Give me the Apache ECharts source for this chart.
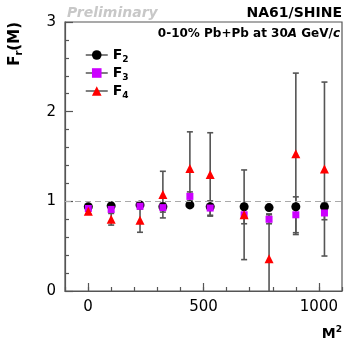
<!DOCTYPE html>
<html>
<head>
<meta charset="utf-8">
<script src="https://cdn.jsdelivr.net/npm/echarts@6/dist/echarts.min.js"></script>
<style>
  html, body { margin: 0; padding: 0; background: #fff; }
  #chart { width: 348px; height: 346px; }
</style>
</head>
<body>
<div id="chart"></div>
<script>
// M^2 bins
var m2 = [1, 100, 225, 324, 441, 529, 676, 784, 900, 1024];
// scaled factorial moments
var f2 = [0.94, 0.95, 0.96, 0.94, 0.96, 0.94, 0.94, 0.93, 0.94, 0.94];
var f2Err = [0.01, 0.01, 0.015, 0.02, 0.02, 0.02, 0.03, 0.02, 0.03, 0.04];
var f3 = [0.92, 0.91, 0.945, 0.93, 1.055, 0.925, 0.85, 0.80, 0.85, 0.87];
var f3Err = [0.02, 0.03, 0.03, 0.05, 0.05, 0.08, 0.1, 0.05, 0.2, 0.075];
var f4 = [0.89, 0.80, 0.79, 1.075, 1.365, 1.30, 0.85, 0.36, 1.53, 1.36];
var f4Err = [0.03, 0.065, 0.135, 0.26, 0.41, 0.465, 0.5, 0.5, 0.9, 0.97];
var xLabels = [0, 500, 1000];
var seriesNames = ['F2', 'F3', 'F4'];

var FONT = 'DejaVu Sans';

function points(vals) {
    return m2.map(function (x, i) { return [x, vals[i]]; });
}
function bars(vals, errs) {
    return m2.map(function (x, i) { return [x, vals[i] - errs[i], vals[i] + errs[i]]; });
}

function renderErr(params, api) {
    var lo = api.coord([api.value(0), api.value(1)]);
    var hi = api.coord([api.value(0), api.value(2)]);
    var w = 3;
    var st = { stroke: '#555', lineWidth: 1.6 };
    return {
        type: 'group',
        children: [
            { type: 'line', shape: { x1: lo[0], y1: lo[1], x2: hi[0], y2: hi[1] }, style: st },
            { type: 'line', shape: { x1: lo[0] - w, y1: lo[1], x2: lo[0] + w, y2: lo[1] }, style: st },
            { type: 'line', shape: { x1: hi[0] - w, y1: hi[1], x2: hi[0] + w, y2: hi[1] }, style: st }
        ]
    };
}

function errSeries(vals, errs) {
    return {
        type: 'custom',
        renderItem: renderErr,
        data: bars(vals, errs),
        encode: { x: 0, y: [1, 2] },
        clip: true,
        silent: true,
        z: 2
    };
}

var myChart = echarts.init(document.getElementById('chart'));
var option = {
    animation: false,
    backgroundColor: '#fff',
    textStyle: { fontFamily: FONT },
    grid: {
        left: 65, right: 6, top: 22, bottom: 55,
        show: true, borderColor: '#555', borderWidth: 1.2
    },
    legend: {
        orient: 'vertical',
        left: 80, top: 43,
        itemWidth: 22, itemHeight: 12, itemGap: 2,
        data: seriesNames.map(function (n) {
            return { name: n, lineStyle: { color: '#555', width: 1.5, opacity: 1 } };
        }),
        formatter: function (n) { return '{b|F}{s|' + n.slice(1) + '}'; },
        textStyle: {
            rich: {
                b: { fontFamily: FONT, fontWeight: 'bold', fontSize: 14, color: '#000' },
                s: { fontFamily: FONT, fontWeight: 'bold', fontSize: 9, color: '#000', padding: [9, 0, 0, 0] }
            }
        }
    },
    xAxis: [{
        type: 'value', min: -100, max: 1100, interval: 100,
        axisLine: { show: true, onZero: false, lineStyle: { color: '#555', width: 1.2 } },
        axisTick: { show: true, inside: true, length: 4, lineStyle: { color: '#555', width: 1.2 } },
        axisLabel: {
            color: '#000', fontSize: 15, margin: 9, fontFamily: FONT,
            formatter: function (v) { return xLabels.indexOf(v) >= 0 ? String(v) : ''; }
        },
        splitLine: { show: false },
        name: '{m|M}{s|2}', nameLocation: 'end',
        nameGap: 0,
        nameTextStyle: {
            align: 'right', verticalAlign: 'top', padding: [34, 0, 0, 0],
            rich: {
                m: { fontFamily: FONT, fontWeight: 'bold', fontSize: 14, color: '#000', padding: [2, 0, 0, 0] },
                s: { fontFamily: FONT, fontWeight: 'bold', fontSize: 9, color: '#000', padding: [0, 0, 6, 0] }
            }
        }
    }, {
        type: 'value', min: -100, max: 1100, position: 'bottom',
        axisLine: { show: false, onZero: false },
        axisTick: { show: true, inside: true, length: 8, customValues: xLabels, lineStyle: { color: '#555', width: 1.2 } },
        axisLabel: { show: false },
        splitLine: { show: false }
    }],
    yAxis: {
        type: 'value', min: 0, max: 3, interval: 1,
        axisLine: { show: true, onZero: false, lineStyle: { color: '#555', width: 1.2 } },
        axisTick: { show: true, inside: true, length: 8, lineStyle: { color: '#555', width: 1.2 } },
        minorTick: { show: true, splitNumber: 5, length: 4, lineStyle: { color: '#555', width: 1.2 } },
        axisLabel: { color: '#000', fontSize: 15, margin: 9, fontFamily: FONT },
        splitLine: { show: false }
    },
    graphic: [
        {
            type: 'text', left: 67, top: 6,
            style: { text: 'Preliminary', font: 'italic bold 14px "DejaVu Sans"', fill: '#c8c8c8' }
        },
        {
            type: 'text', right: 6, top: 6,
            style: { text: 'NA61/SHINE', font: 'bold 14px "DejaVu Sans"', fill: '#000' }
        },
        {
            type: 'text', right: 8, top: 28,
            style: {
                text: '{b|0-10% Pb+Pb at 30}{i|A}{b| GeV/}{i|c}',
                rich: {
                    b: { fontFamily: FONT, fontWeight: 'bold', fontSize: 12, fill: '#000' },
                    i: { fontFamily: FONT, fontWeight: 'bold', fontStyle: 'italic', fontSize: 12, fill: '#000' }
                }
            }
        },
        {
            type: 'text', x: 6, y: 22, rotation: Math.PI / 2,
            style: {
                text: '{b|F}{s|r}{b|(M)}',
                align: 'right', verticalAlign: 'top',
                rich: {
                    b: { fontFamily: FONT, fontWeight: 'bold', fontSize: 15, fill: '#000' },
                    s: { fontFamily: FONT, fontWeight: 'bold', fontSize: 10, fill: '#000', padding: [8, 0, 0, 0] }
                }
            }
        }
    ],
    series: [
        errSeries(f2, f2Err),
        {
            name: 'F2', type: 'line', data: points(f2),
            symbol: 'circle', symbolSize: 9,
            itemStyle: { color: '#000' },
            lineStyle: { width: 0, opacity: 0 },
            z: 3,
            markLine: {
                silent: true, symbol: 'none', label: { show: false },
                lineStyle: { color: '#aaa', type: [6, 4], width: 1.2 },
                data: [{ yAxis: 1 }]
            }
        },
        errSeries(f3, f3Err),
        {
            name: 'F3', type: 'line', data: points(f3),
            symbol: 'rect', symbolSize: 7,
            itemStyle: { color: '#cc00ff' },
            lineStyle: { width: 0, opacity: 0 },
            z: 4
        },
        errSeries(f4, f4Err),
        {
            name: 'F4', type: 'line', data: points(f4),
            symbol: 'triangle', symbolSize: 9,
            itemStyle: { color: '#ff0000' },
            lineStyle: { width: 0, opacity: 0 },
            z: 5
        }
    ]
};
myChart.setOption(option);
</script>
</body>
</html>
